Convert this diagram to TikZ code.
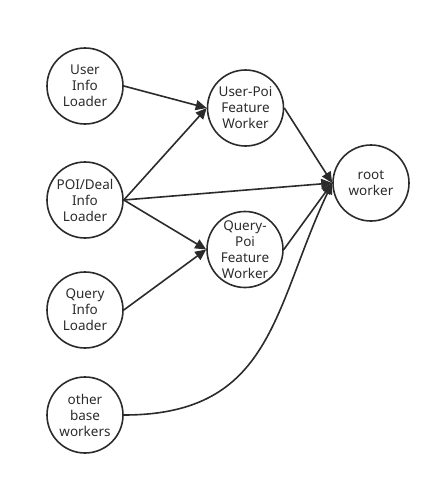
\documentclass[tikz,border=0pt]{standalone}
\usepackage{fontspec}
\setmainfont{Noto Sans}
\usetikzlibrary{arrows.meta}
\definecolor{ink}{HTML}{2B2B2B}
\begin{document}
\begin{tikzpicture}[x=1pt,y=-1pt,
  wk/.style={circle,draw=ink,line width=1.6pt,minimum size=76pt,inner sep=0pt,
    align=center,text=ink,font=\fontsize{13.5}{16}\selectfont},
  conn/.style={draw=ink,line width=1.6pt,-{Triangle[length=11pt,width=10pt]}}]
\useasboundingbox (0,0) rectangle (441,485);
\node[wk] (uil) at (85,86) {User\\Info\\Loader};
\node[wk] (pdl) at (85,200) {POI/Deal\\Info\\Loader};
\node[wk] (qil) at (85,310) {Query\\Info\\Loader};
\node[wk] (obw) at (85,415) {other\\base\\workers};
\node[wk] (upf) at (245.5,108) {User-Poi\\Feature\\Worker};
\node[wk] (qpf) at (245,249.5) {Query-\\Poi\\Feature\\Worker};
\node[wk] (root) at (371,183) {root\\worker};
\draw[conn] (uil.east) -- (upf.west);
\draw[conn] (pdl.east) -- (upf.west);
\draw[conn] (pdl.east) -- (qpf.west);
\draw[conn] (qil.east) -- (qpf.west);
\draw[conn] (upf.east) -- (root.west);
\draw[conn] (pdl.east) -- (root.west);
\draw[conn] (qpf.east) -- (root.west);
\draw[conn] (obw.east) .. controls (273,415) and (273,308) .. (root.west);
\end{tikzpicture}
\end{document}
